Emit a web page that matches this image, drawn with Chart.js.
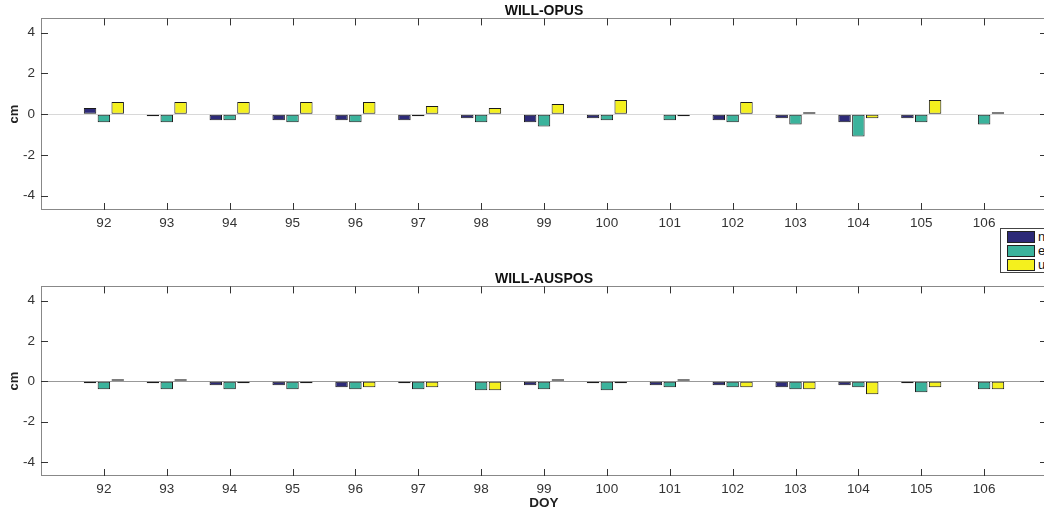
<!DOCTYPE html>
<html>
<head>
<meta charset="utf-8">
<script src="https://cdn.jsdelivr.net/npm/chart.js@4.4.1/dist/chart.umd.min.js"></script>
<style>
  html, body { margin: 0; padding: 0; background: #fff; overflow: hidden; }
  #wrap { position: relative; width: 1044px; height: 518px; overflow: hidden; }
  canvas { position: absolute; left: 0; }
  #opus { top: 0; }
  #auspos { top: 268px; }
  #legend {
    position: absolute; left: 1000px; top: 228px; width: 60px; height: 43px;
    border: 1px solid #444; background: #fff;
    font: 13px "Liberation Sans", Arial, sans-serif; color: #111;
  }
  #legend div { height: 12px; line-height: 12px; margin: 2px 0 0 6px; display: flex; align-items: center; }
  #legend span.sw { display: inline-block; width: 26px; height: 10px; border: 1px solid #222; margin-right: 3px; }
</style>
</head>
<body>
<div id="wrap">
  <canvas id="opus" width="1050" height="240"></canvas>
  <canvas id="auspos" width="1050" height="250"></canvas>
  <div id="legend"></div>
</div>
<script>
// day of year
const days = [92, 93, 94, 95, 96, 97, 98, 99, 100, 101, 102, 103, 104, 105, 106];
const yTicks = [-4, -2, 0, 2, 4];

// WILL-OPUS differences (cm)
const opusN = [0.3, -0.1, -0.3, -0.3, -0.3, -0.3, -0.2, -0.4, -0.2, -0.03, -0.3, -0.2, -0.4, -0.2, -0.03];
const opusE = [-0.4, -0.4, -0.3, -0.4, -0.4, -0.1, -0.4, -0.6, -0.3, -0.3, -0.4, -0.5, -1.1, -0.4, -0.5];
const opusU = [0.6, 0.6, 0.6, 0.6, 0.6, 0.4, 0.3, 0.5, 0.7, -0.1, 0.6, 0.1, -0.2, 0.7, 0.1];

// WILL-AUSPOS differences (cm)
const ausN = [-0.1, -0.1, -0.2, -0.2, -0.3, -0.1, 0, -0.2, -0.1, -0.2, -0.2, -0.3, -0.2, -0.1, 0];
const ausE = [-0.4, -0.4, -0.4, -0.4, -0.4, -0.4, -0.45, -0.4, -0.45, -0.3, -0.3, -0.4, -0.3, -0.55, -0.4];
const ausU = [0.1, 0.1, -0.1, -0.1, -0.3, -0.3, -0.45, 0.1, -0.1, 0.1, -0.3, -0.4, -0.65, -0.3, -0.4];

const seriesNames = ['n', 'e', 'u'];
const seriesColors = ['#2d2a78', '#3bb39c', '#f4f01e'];

const FONT = '"Liberation Sans", Arial, sans-serif';

// box around the axes plus inward ticks, like matlab
const frame = {
  id: 'frame',
  afterDraw(chart) {
    const { ctx, chartArea: a, scales: { x, y } } = chart;
    ctx.save();
    ctx.lineWidth = 1;
    ctx.strokeStyle = '#888';
    ctx.strokeRect(Math.round(a.left) + 0.5, Math.round(a.top) + 0.5,
      Math.round(a.right - a.left) - 1, Math.round(a.bottom - a.top) - 1);
    ctx.strokeStyle = '#333';
    ctx.beginPath();
    x.ticks.forEach(t => {
      const px = Math.round(x.getPixelForValue(t.value)) + 0.5;
      ctx.moveTo(px, a.bottom); ctx.lineTo(px, a.bottom - 7);
      ctx.moveTo(px, a.top); ctx.lineTo(px, a.top + 7);
    });
    y.ticks.forEach(t => {
      const py = Math.round(y.getPixelForValue(t.value)) + 0.5;
      ctx.moveTo(a.left, py); ctx.lineTo(a.left + 7, py);
      ctx.moveTo(a.right, py); ctx.lineTo(a.right - 7, py);
    });
    ctx.stroke();
    ctx.restore();
  }
};

function makeChart(id, title, values, zeroColor, bottomTitle) {
  const ctx = document.getElementById(id).getContext('2d');
  return new Chart(ctx, {
    type: 'bar',
    data: {
      datasets: values.map((vals, i) => ({
        label: seriesNames[i],
        data: days.map((d, j) => ({ x: d, y: vals[j] })),
        backgroundColor: seriesColors[i],
        borderColor: '#1a1a1a',
        borderWidth: 1,
        borderSkipped: false,
        categoryPercentage: 0.66,
        barPercentage: 0.9
      }))
    },
    options: {
      responsive: false,
      animation: false,
      layout: { padding: { left: 0, right: 3, top: 0, bottom: 0 } },
      plugins: {
        legend: { display: false },
        tooltip: { enabled: false },
        title: {
          display: true,
          text: title,
          fullSize: false,
          color: '#111',
          font: { family: FONT, size: 14, weight: 'bold', lineHeight: 1.1 },
          padding: { top: 3, bottom: 0 }
        }
      },
      scales: {
        x: {
          type: 'linear',
          min: 91,
          max: 107,
          offset: false,
          afterBuildTicks: s => { s.ticks = days.map(v => ({ value: v })); },
          afterFit: s => { s.height = bottomTitle ? 42 : 30; },
          grid: { display: false, drawTicks: false },
          border: { display: false },
          ticks: { padding: 5, color: '#333', autoSkip: false, maxRotation: 0,
                   font: { family: FONT, size: 13.5 } },
          title: {
            display: !!bottomTitle,
            text: bottomTitle || '',
            color: '#222',
            font: { family: FONT, size: 13.5, weight: 'bold' },
            padding: { top: 0, bottom: 7 }
          }
        },
        y: {
          min: -4.7,
          max: 4.7,
          afterBuildTicks: s => { s.ticks = yTicks.map(v => ({ value: v })); },
          afterFit: s => { s.width = 41; },
          grid: {
            drawTicks: false,
            color: c => (c.tick && c.tick.value === 0 ? zeroColor : 'rgba(0,0,0,0)')
          },
          border: { display: false },
          ticks: { padding: 6, color: '#333', font: { family: FONT, size: 13.5 },
                   callback: v => String(v) },
          title: {
            display: true,
            text: 'cm',
            color: '#222',
            font: { family: FONT, size: 13, weight: 'bold' },
            padding: { top: 7, bottom: 0 }
          }
        }
      }
    },
    plugins: [frame]
  });
}

makeChart('opus', 'WILL-OPUS', [opusN, opusE, opusU], '#d8d8d8', null);
makeChart('auspos', 'WILL-AUSPOS', [ausN, ausE, ausU], '#999', 'DOY');

// legend sits between the two axes, partly cut off by the right edge
const legend = document.getElementById('legend');
seriesNames.forEach((name, i) => {
  const row = document.createElement('div');
  row.innerHTML = '<span class="sw" style="background:' + seriesColors[i] + '"></span>' + name;
  legend.appendChild(row);
});
</script>
</body>
</html>
